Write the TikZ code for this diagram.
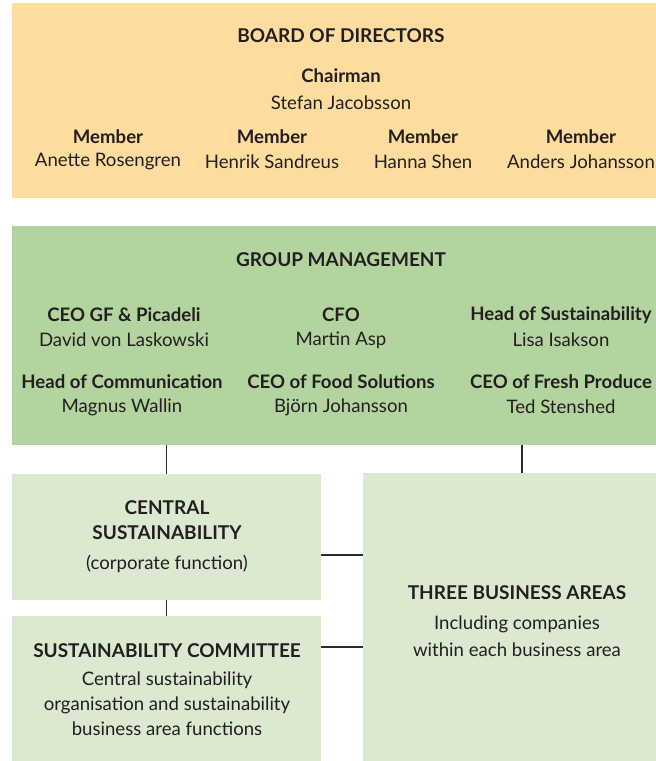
\documentclass[tikz,border=0pt]{standalone}
\usepackage{fontspec}
\setmainfont{Lato}
\usetikzlibrary{calc}
\definecolor{boardfill}{HTML}{FDDC9E}
\definecolor{mgmtfill}{HTML}{B3D49E}
\definecolor{unitfill}{HTML}{DBE9D0}
\definecolor{ink}{HTML}{231F20}
\definecolor{linkcol}{HTML}{2B2B2B}
\begin{document}
\begin{tikzpicture}[x=1pt,y=-1pt,
  panel/.style={draw=none,rectangle,inner sep=0pt,outer sep=0pt},
  head/.style={font=\fontsize{19}{22}\selectfont\bfseries,text=ink,inner sep=0pt},
  role/.style={font=\fontsize{18.6}{22}\selectfont\bfseries,text=ink,inner sep=0pt},
  who/.style={font=\fontsize{18.6}{22}\selectfont,text=ink,inner sep=0pt},
  link/.style={draw=linkcol,line width=1.6pt}]
\useasboundingbox (0,0) rectangle (656,761);

% panels
\node[panel,fill=boardfill,minimum width=644pt,minimum height=195pt,anchor=north west] (board) at (12,3) {};
\node[panel,fill=mgmtfill,minimum width=644pt,minimum height=219pt,anchor=north west] (gm) at (12,226) {};
\node[panel,fill=unitfill,minimum width=309pt,minimum height=126pt,anchor=north west] (cs) at (12,474) {};
\node[panel,fill=unitfill,minimum width=309pt,minimum height=145pt,anchor=north west] (sc) at (12,616) {};
\node[panel,fill=unitfill,minimum width=293pt,minimum height=288pt,anchor=north west] (tba) at (363,473) {};

% connectors
\coordinate (hcs) at (0,555);
\coordinate (hsc) at (0,647);
\draw[link] (cs.north) -- (cs.north |- gm.south);
\draw[link] ([xshift=12.5pt]tba.north) -- ([xshift=12.5pt]tba.north |- gm.south);
\draw[link] (cs.south) -- (sc.north);
\draw[link] (cs.east |- hcs) -- (tba.west |- hcs);
\draw[link] (sc.east |- hsc) -- (tba.west |- hsc);

% board of directors
\node[head] (bt) at (341,36) {BOARD OF DIRECTORS};
\node[role] (chr) at (341,76) {Chairman};
\node[who] (chn) at (341,103) {Stefan Jacobsson};
\node[role] (m1) at (108,137) {Member};
\node[who] (n1) at (108,162) {Anette Rosengren};
\node[role] (m2) at (272,137) {Member};
\node[who] (n2) at (272,162) {Henrik Sandreus};
\node[role] (m3) at (423,137) {Member};
\node[who] (n3) at (423,162) {Hanna Shen};
\node[role] (m4) at (581,137) {Member};
\node[who] (n4) at (581,162) {Anders Johansson};

% group management
\node[head] (gt) at (341,260) {GROUP MANAGEMENT};
\node[role] (r1) at (124,315) {CEO GF \& Picadeli};
\node[who] (p1) at (124,340) {David von Laskowski};
\node[role] (r2) at (341,315) {CFO};
\node[who] (p2) at (341,340) {Martin Asp};
\node[role] (r3) at (561,315) {Head of Sustainability};
\node[who] (p3) at (561,340) {Lisa Isakson};
\node[role] (r4) at (122,382) {Head of Communication};
\node[who] (p4) at (122,407) {Magnus Wallin};
\node[role] (r5) at (341,382) {CEO of Food Solutions};
\node[who] (p5) at (341,407) {Björn Johansson};
\node[role] (r6) at (561,382) {CEO of Fresh Produce};
\node[who] (p6) at (561,407) {Ted Stenshed};

% central sustainability
\node[head] (cst1) at (167,508) {CENTRAL};
\node[head] (cst2) at (167,533) {SUSTAINABILITY};
\node[who] (csd) at (167,564) {(corporate function)};

% sustainability committee
\node[head] (sct) at (167,651) {SUSTAINABILITY COMMITTEE};
\node[who] (scd1) at (167,680) {Central sustainability};
\node[who] (scd2) at (167,705) {organisation and sustainability};
\node[who] (scd3) at (167,729) {business area functions};

% business areas
\node[head] (bat) at (517,593) {THREE BUSINESS AREAS};
\node[who] (bad1) at (517,624) {Including companies};
\node[who] (bad2) at (517,650) {within each business area};
\end{tikzpicture}
\end{document}
